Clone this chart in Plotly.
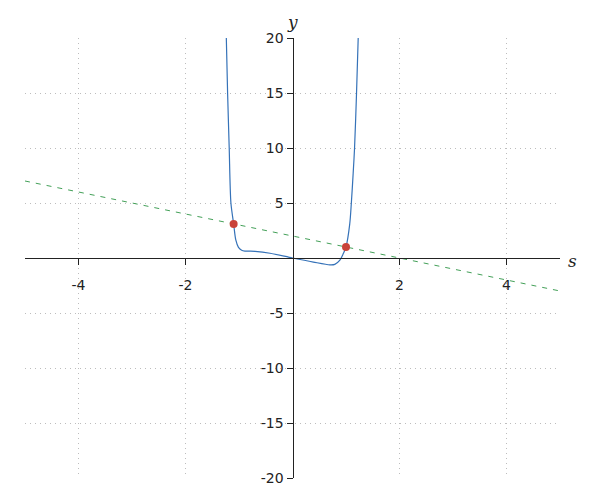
import plotly.graph_objects as go

# Curve points
curve_s = [-1.237, -1.213, -1.183, -1.151, -1.10, -1.06, -1.01, -0.95, -0.89, -0.80, -0.70,
           -0.42, 0.0, 0.39, 0.70, 0.79, 0.886, 0.95, 1.0, 1.07, 1.10, 1.134, 1.16, 1.197, 1.228]
curve_y = [20, 15, 10, 5, 3.1, 1.64, 0.97, 0.70, 0.63, 0.62, 0.60,
           0.43, 0.0, -0.37, -0.62, -0.58, -0.20, 0.40, 1.0, 3.1, 5, 7.7, 10, 15, 20]

# Dashed line endpoints
line_s = [-5, 5]
line_y = [7, -3]

# Intersection points
pts_s = [-1.1, 1.0]
pts_y = [3.1, 1.0]

x_ticks = [-4, -2, 2, 4]
x_labels = ["-4", "-2", "2", "4"]
y_ticks = [-20, -15, -10, -5, 5, 10, 15, 20]
y_labels = ["-20", "-15", "-10", "-5", "5", "10", "15", "20"]

fig = go.Figure()
fig.add_trace(go.Scatter(x=line_s, y=line_y, mode="lines",
                         line=dict(color="#43a058", width=1, dash="5px,6px"),
                         hoverinfo="skip"))
fig.add_trace(go.Scatter(x=curve_s, y=curve_y, mode="lines",
                         line=dict(color="#3572b8", width=1.2, shape="spline", smoothing=0.8),
                         hoverinfo="skip"))
fig.add_trace(go.Scatter(x=pts_s, y=pts_y, mode="markers",
                         marker=dict(color="#c9423a", size=8), hoverinfo="skip"))

axis_common = dict(showline=True, linecolor="#222", linewidth=1,
                   ticks="outside", ticklen=6, tickcolor="#222", tickwidth=1,
                   showgrid=True, gridcolor="#bdbdbd", griddash="1px,4px", gridwidth=1,
                   zeroline=False, tickfont=dict(family="DejaVu Sans", size=14, color="#222"),
                   anchor="free", position=0.5, automargin=False)

fig.update_layout(
    width=584, height=484,
    margin=dict(l=17, r=32, t=30, b=14),
    paper_bgcolor="white", plot_bgcolor="white",
    showlegend=False,
    xaxis=dict(range=[-5, 5], tickvals=x_ticks, ticktext=x_labels, ticklabelstandoff=8, **axis_common),
    yaxis=dict(range=[-20, 20], tickvals=y_ticks, ticktext=y_labels, **axis_common),
    annotations=[
        dict(text="<i>y</i>", xref="paper", yref="paper", x=0.5, y=1.0, xanchor="center", yanchor="bottom",
             showarrow=False, font=dict(family="DejaVu Serif", size=17, color="#222"), yshift=4),
        dict(text="<i>s</i>", xref="paper", yref="paper", x=1.0, y=0.5, xanchor="left", yanchor="middle",
             showarrow=False, font=dict(family="DejaVu Serif", size=17, color="#222"), xshift=6, yshift=-3),
    ],
)

fig.write_html("out.html")
